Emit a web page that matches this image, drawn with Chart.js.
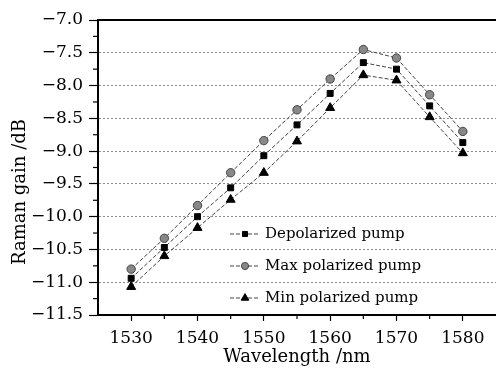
<!DOCTYPE html>
<html><head><meta charset="utf-8">
<script src="https://cdn.jsdelivr.net/npm/chart.js@4/dist/chart.umd.min.js"></script>
<style>html,body{margin:0;padding:0;background:#fff;}#wrap{width:496px;height:370px;}</style>
</head><body><div id="wrap"><canvas id="c" width="496" height="370"></canvas></div>
<script>
const wavelengths = [1530,1535,1540,1545,1550,1555,1560,1565,1570,1575,1580];
const depolarized = [-10.94,-10.47,-10.00,-9.56,-9.07,-8.60,-8.12,-7.65,-7.75,-8.31,-8.87];
const maxPolarized = [-10.80,-10.33,-9.83,-9.33,-8.84,-8.37,-7.90,-7.45,-7.58,-8.14,-8.70];
const minPolarized = [-11.07,-10.60,-10.17,-9.74,-9.33,-8.85,-8.34,-7.84,-7.92,-8.48,-9.03];
const seriesNames = ['Depolarized pump','Max polarized pump','Min polarized pump'];
const xTicks = [1530,1540,1550,1560,1570,1580];
const yTicks = [-7.0,-7.5,-8.0,-8.5,-9.0,-9.5,-10.0,-10.5,-11.0,-11.5];
const xTitle = 'Wavelength /nm';
const yTitle = 'Raman gain /dB';

const FONT = 'DejaVu Serif';
const styles = [
  {pointStyle:'rect', pointRadius:4.2, bg:'#000', bd:'#000'},
  {pointStyle:'circle', pointRadius:4.2, bg:'#888', bd:'#444'},
  {pointStyle:'triangle', pointRadius:5.2, bg:'#000', bd:'#000'}
];
const seriesData = [depolarized, maxPolarized, minPolarized];

function drawMarker(ctx, style, x, y, r, bg, bd) {
  ctx.save();
  ctx.fillStyle = bg; ctx.strokeStyle = bd; ctx.lineWidth = 1; ctx.setLineDash([]);
  ctx.beginPath();
  if (style === 'rect') {
    const s = r * 1.41;
    ctx.rect(x - s/2, y - s/2, s, s);
  } else if (style === 'circle') {
    ctx.arc(x, y, r, 0, Math.PI * 2);
  } else {
    ctx.moveTo(x, y - r);
    ctx.lineTo(x + r * 0.866, y + r * 0.5);
    ctx.lineTo(x - r * 0.866, y + r * 0.5);
    ctx.closePath();
  }
  ctx.fill(); ctx.stroke();
  ctx.restore();
}

const decorPlugin = {
  id: 'decor',
  afterDraw(chart) {
    const ctx = chart.ctx;
    const xs = chart.scales.x, ys = chart.scales.y;
    const area = chart.chartArea;
    ctx.save();
    ctx.strokeStyle = '#000'; ctx.lineWidth = 2; ctx.setLineDash([]);
    const yt = ys.getPixelForValue(-7.0);
    ctx.beginPath(); ctx.moveTo(area.left, yt); ctx.lineTo(area.right, yt); ctx.stroke();
    ctx.lineWidth = 1.2;
    for (let v = 1535; v <= 1575; v += 10) {
      const px = xs.getPixelForValue(v);
      ctx.beginPath(); ctx.moveTo(px, area.bottom); ctx.lineTo(px, area.bottom + 4); ctx.stroke();
    }
    for (let v = -11.25; v < -7; v += 0.5) {
      const py = ys.getPixelForValue(v);
      ctx.beginPath(); ctx.moveTo(area.left - 5, py); ctx.lineTo(area.left, py); ctx.stroke();
    }
    ctx.fillStyle = '#000';
    ctx.font = '18px "' + FONT + '"';
    ctx.textAlign = 'center'; ctx.textBaseline = 'middle';
    ctx.translate(20, 192); ctx.rotate(-Math.PI / 2);
    ctx.fillText(yTitle, 0, 0);
    ctx.restore();
    ctx.save();
    const rows = [234, 266, 298];
    ctx.font = '15px "' + FONT + '"';
    ctx.textAlign = 'left'; ctx.textBaseline = 'middle';
    seriesNames.forEach((name, i) => {
      const y = rows[i];
      ctx.strokeStyle = '#444'; ctx.lineWidth = 1; ctx.setLineDash([4, 2]);
      ctx.beginPath(); ctx.moveTo(230, y); ctx.lineTo(260, y); ctx.stroke();
      const st = styles[i];
      drawMarker(ctx, st.pointStyle, 245, y, st.pointRadius * 0.85, st.bg, st.bd);
      ctx.fillStyle = '#000';
      ctx.fillText(name, 265, y);
    });
    ctx.restore();
  }
};

new Chart(document.getElementById('c'), {
  type: 'line',
  data: {
    datasets: seriesData.map((arr, i) => ({
      label: seriesNames[i],
      data: wavelengths.map((w, j) => ({x: w, y: arr[j]})),
      borderColor: '#444', borderWidth: 1, borderDash: [4, 2],
      pointStyle: styles[i].pointStyle, pointRadius: styles[i].pointRadius,
      pointBackgroundColor: styles[i].bg, pointBorderColor: styles[i].bd, pointBorderWidth: 1,
      fill: false, tension: 0, clip: false
    }))
  },
  options: {
    responsive: false, animation: false, devicePixelRatio: 1,
    layout: {autoPadding: false, padding: {top: 20, right: 0, left: 0, bottom: 0}},
    plugins: {legend: {display: false}, tooltip: {enabled: false}},
    scales: {
      x: {
        type: 'linear', min: 1525, max: 1585,
        afterBuildTicks: s => { s.ticks = xTicks.map(v => ({value: v})); },
        afterFit: s => { s.height = 55; s.paddingRight = 0; s.paddingLeft = 0; },
        grid: {drawOnChartArea: false, drawTicks: true, tickLength: 6, tickColor: '#000', tickWidth: 1.2},
        border: {display: true, color: '#000', width: 2},
        ticks: {font: {family: FONT, size: 17}, color: '#000', padding: 7, maxRotation: 0, autoSkip: false, callback: v => String(v)},
        title: {display: true, text: xTitle, font: {family: FONT, size: 18}, color: '#000', padding: {top: 0, bottom: 2}}
      },
      y: {
        type: 'linear', min: -11.5, max: -7.0,
        afterBuildTicks: s => { s.ticks = yTicks.map(v => ({value: v})); },
        afterFit: s => { s.width = 98; s.paddingTop = 0; s.paddingBottom = 0; },
        grid: {color: '#8a8a8a', lineWidth: 1, tickLength: 9, tickColor: '#000', tickWidth: 1.2},
        border: {display: true, color: '#000', width: 2, dash: [2, 2]},
        ticks: {font: {family: FONT, size: 17}, color: '#000', padding: 6, autoSkip: false,
                callback: v => (v < 0 ? '\u2212' : '') + Math.abs(v).toFixed(1)},
        title: {display: false}
      }
    }
  },
  plugins: [decorPlugin]
});
</script></body></html>
